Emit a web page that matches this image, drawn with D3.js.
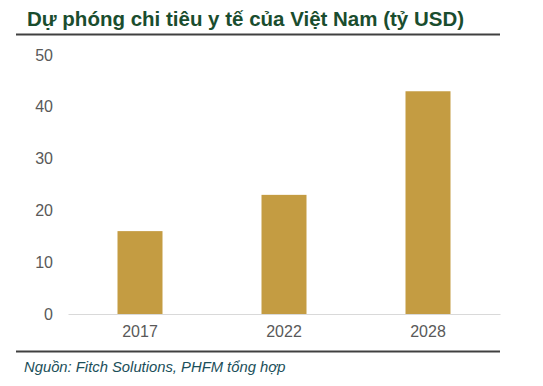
<!DOCTYPE html>
<html>
<head>
<meta charset="utf-8">
<script src="https://cdn.jsdelivr.net/npm/d3@7"></script>
<style>
  body { margin: 0; background: #fff; }
  text { font-family: "Liberation Sans", Arial, sans-serif; }
</style>
</head>
<body>
<svg id="chart" width="543" height="386"></svg>
<script>
var years = ["2017", "2022", "2028"];
var spending = [16, 23, 43];
var yTicks = [0, 10, 20, 30, 40, 50];

var margin = {top: 55, right: 43, bottom: 72, left: 68},
  width = 543 - margin.left - margin.right,
  height = 386 - margin.top - margin.bottom;

var svg = d3.select("#chart");

// title and rules
svg.append("text")
  .attr("x", 27).attr("y", 26)
  .attr("font-size", 20.5).attr("font-weight", "bold")
  .attr("fill", "#1a4d2e")
  .text("Dự phóng chi tiêu y tế của Việt Nam (tỷ USD)");

svg.append("line")
  .attr("x1", 16).attr("x2", 500).attr("y1", 34.5).attr("y2", 34.5)
  .attr("stroke", "#404040").attr("stroke-width", 2);

svg.append("line")
  .attr("x1", 16).attr("x2", 500).attr("y1", 351.5).attr("y2", 351.5)
  .attr("stroke", "#404040").attr("stroke-width", 2);

svg.append("text")
  .attr("x", 24).attr("y", 372)
  .attr("font-size", 14.8).attr("font-style", "italic")
  .attr("fill", "#1b4f5a")
  .text("Nguồn: Fitch Solutions, PHFM tổng hợp");

var g = svg.append("g")
  .attr("transform", "translate(" + margin.left + "," + margin.top + ")");

var x = d3.scaleBand()
  .domain(years)
  .range([0, width])
  .paddingInner(0.6875)
  .paddingOuter(0.34375);

var y = d3.scaleLinear()
  .domain([0, 50])
  .range([height, 0]);

// y axis labels only
var yAxis = g.append("g")
  .call(d3.axisLeft(y).tickValues(yTicks).tickSize(0).tickPadding(15));
yAxis.select(".domain").remove();
yAxis.selectAll("text")
  .attr("font-size", 16).attr("fill", "#595959")
  .style("font-family", "'Liberation Sans', Arial, sans-serif");

// bars
g.selectAll(".bar")
  .data(spending)
  .enter().append("rect")
  .attr("class", "bar")
  .attr("x", function(d, i) { return x(years[i]); })
  .attr("width", x.bandwidth())
  .attr("y", function(d) { return y(d); })
  .attr("height", function(d) { return height - y(d); })
  .attr("fill", "#c49c42");

// x axis
var xAxis = g.append("g")
  .attr("transform", "translate(0," + height + ")")
  .call(d3.axisBottom(x).tickSize(0).tickPadding(12));
xAxis.select(".domain").attr("stroke", "#d9d9d9").attr("stroke-width", 1);
xAxis.selectAll("text")
  .attr("font-size", 16).attr("fill", "#595959")
  .style("font-family", "'Liberation Sans', Arial, sans-serif");
</script>
</body>
</html>
